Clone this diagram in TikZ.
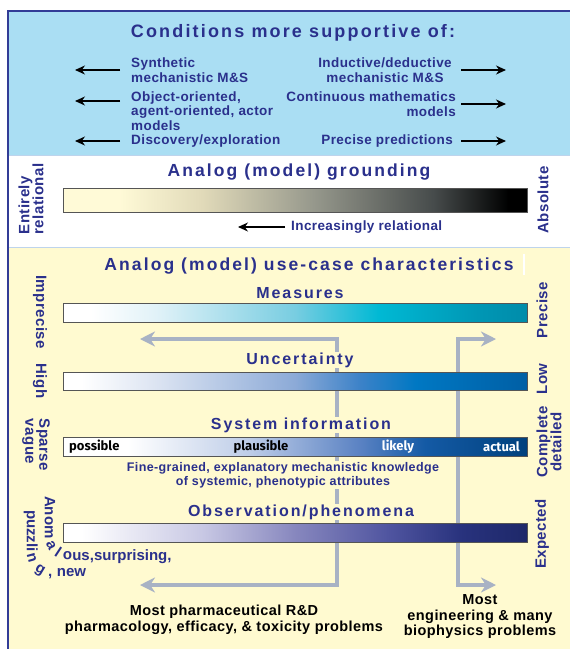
\documentclass[tikz,border=0pt]{standalone}
\usepackage{fontspec}
\setmainfont{Liberation Sans}
\newfontfamily\spacedfont[LetterSpace=12]{Liberation Sans}
\newfontfamily\widefont[LetterSpace=3]{Liberation Sans}
\newfontfamily\handfont{Fira Sans}
\usetikzlibrary{arrows.meta,decorations.text}

\definecolor{skypanel}{RGB}{170,222,243}
\definecolor{creampanel}{RGB}{255,250,208}
\definecolor{inkblue}{RGB}{42,48,140}
\definecolor{framenavy}{RGB}{50,60,150}
\definecolor{seamblue}{RGB}{190,212,236}
\definecolor{arrowgray}{RGB}{168,178,196}
\definecolor{bargray}{RGB}{85,85,85}

\definecolor{gA}{RGB}{255,250,215}
\definecolor{gB}{RGB}{225,218,185}
\definecolor{gC}{RGB}{150,152,140}
\definecolor{gD}{RGB}{70,75,75}
\definecolor{mB}{RGB}{225,242,248}
\definecolor{mC}{RGB}{120,205,225}
\definecolor{mD}{RGB}{0,185,212}
\definecolor{mE}{RGB}{0,150,180}
\definecolor{mF}{RGB}{0,140,170}
\definecolor{uB}{RGB}{220,228,242}
\definecolor{uC}{RGB}{140,170,215}
\definecolor{uD}{RGB}{60,130,200}
\definecolor{uE}{RGB}{0,120,195}
\definecolor{uF}{RGB}{0,95,165}
\definecolor{sB}{RGB}{190,205,232}
\definecolor{sC}{RGB}{90,130,195}
\definecolor{sD}{RGB}{20,90,165}
\definecolor{sE}{RGB}{0,65,125}
\definecolor{oB}{RGB}{200,200,228}
\definecolor{oC}{RGB}{135,135,190}
\definecolor{oD}{RGB}{80,85,160}
\definecolor{oE}{RGB}{40,50,125}
\definecolor{oF}{RGB}{30,40,105}

\pgfdeclarehorizontalshading{groundshade}{100bp}{color(0bp)=(gA); color(31bp)=(gA);
    color(40bp)=(gB); color(52bp)=(gC); color(65bp)=(gD); color(73bp)=(black); color(100bp)=(black)}
\pgfdeclarehorizontalshading{measureshade}{100bp}{color(0bp)=(white); color(28bp)=(white);
    color(35bp)=(mB); color(50bp)=(mC); color(59bp)=(mD); color(70bp)=(mE); color(75bp)=(mF); color(100bp)=(mF)}
\pgfdeclarehorizontalshading{uncertshade}{100bp}{color(0bp)=(white); color(27bp)=(white);
    color(35bp)=(uB); color(50bp)=(uC); color(57bp)=(uD); color(63bp)=(uE); color(75bp)=(uF); color(100bp)=(uF)}
\pgfdeclarehorizontalshading{sysshade}{100bp}{color(0bp)=(white); color(32bp)=(white);
    color(45bp)=(sB); color(57bp)=(sC); color(64bp)=(sD); color(75bp)=(sE); color(100bp)=(sE)}
\pgfdeclarehorizontalshading{obsshade}{100bp}{color(0bp)=(white); color(27bp)=(white);
    color(40bp)=(oB); color(50bp)=(oC); color(60bp)=(oD); color(68bp)=(oE); color(75bp)=(oF); color(100bp)=(oF)}

\begin{document}
\begin{tikzpicture}[x=1pt, y=-1pt,
    toptext/.style={text=inkblue, font=\widefont\bfseries\fontsize{13.5}{14.5}\selectfont, inner sep=1pt},
    paneltitle/.style={text=inkblue, font=\spacedfont\bfseries\fontsize{17.5}{19}\selectfont, inner sep=1pt},
    bartitle/.style={text=inkblue, font=\spacedfont\bfseries\fontsize{16}{18}\selectfont, fill=creampanel, inner sep=1pt},
    sidelabel/.style={text=inkblue, font=\widefont\bfseries\fontsize{15}{14}\selectfont, inner sep=0pt},
    gradbar/.style={draw=bargray, line width=1pt, shade, minimum width=464pt, minimum height=19pt, inner sep=0pt},
    barword/.style={font=\handfont\bfseries\fontsize{13}{14}\selectfont, inner sep=1pt},
    toparrow/.style={-{Stealth[length=10pt,width=9pt]}, line width=1.1pt, black},
    grayarrow/.style={{Stealth[length=15pt,width=15pt]}-{Stealth[length=15pt,width=15pt]}, line width=3.5pt, arrowgray},
    curvetext/.style={decorate, decoration={text along path, raise=-11pt, text color=inkblue,
        text={|\widefont\bfseries\fontsize{15}{16}\selectfont|#1}}},
    endtext/.style={font=\widefont\bfseries\fontsize{14.5}{15.5}\selectfont, align=center, inner sep=1pt}]
    \useasboundingbox (0,0) rectangle (570,649);

    \fill [skypanel] (8,11) rectangle (570,155);
    \fill [white] (8,155) rectangle (570,247);
    \fill [creampanel] (8,247) rectangle (570,649);
    \draw [seamblue, line width=1pt] (8,155) -- (570,155);
    \draw [seamblue, line width=1pt] (8,247) -- (570,247);
    \draw [framenavy, line width=1.2pt] (570,11) -- (8,11) -- (8,649);

    \node [paneltitle, font=\spacedfont\bfseries\fontsize{18}{19}\selectfont] (cond) at (293,33) {Conditions more supportive of:};

    \coordinate (leftstart) at (120,0);
    \coordinate (leftend) at (75,0);
    \coordinate (rightstart) at (461,0);
    \coordinate (rightend) at (506,0);
    \node [toptext, anchor=west, align=left] (synth) at (130,70) {Synthetic\\mechanistic M\&S};
    \node [toptext, anchor=west, align=left] (objor) at (130,111) {Object-oriented,\\agent-oriented, actor\\models};
    \node [toptext, anchor=west] (disc) at (130,141) {Discovery/exploration};
    \node [toptext, align=center] (induct) at (385,70) {Inductive/deductive\\mechanistic M\&S};
    \node [toptext, anchor=east, align=right] (contin) at (457,104) {Continuous mathematics\\models};
    \node [toptext, anchor=east] (precise) at (454,141) {Precise predictions};

    \draw [toparrow] (synth.west -| leftstart) -- (synth.west -| leftend);
    \draw [toparrow] ([yshift=10pt]objor.west -| leftstart) -- ([yshift=10pt]objor.west -| leftend);
    \draw [toparrow] (disc.west -| leftstart) -- (disc.west -| leftend);
    \draw [toparrow] (induct.east -| rightstart) -- (induct.east -| rightend);
    \draw [toparrow] (contin.east -| rightstart) -- (contin.east -| rightend);
    \draw [toparrow] (precise.east -| rightstart) -- (precise.east -| rightend);

    \node [sidelabel, rotate=90, align=left] (entirely) at (31,199) {Entirely\\relational};
    \node [paneltitle] (groundtitle) at (299,172) {Analog (model) grounding};
    \node [gradbar, shading=groundshade, minimum height=24pt] (groundbar) at (295,200) {};
    \node [toptext, anchor=west] (incr) at (290,227) {Increasingly relational};
    \coordinate (incrend) at (238,227);
    \draw [toparrow] ([xshift=-5pt]incr.west) -- (incrend);
    \node [sidelabel, rotate=90] (absolute) at (543,200) {Absolute};

    \node [paneltitle] (usetitle) at (309,266) {Analog (model) use-case characteristics};
    \draw [white, line width=2.5pt] (524,254) -- (524,275);

    \coordinate (pharmtop) at (140,339);
    \coordinate (pharmturn) at (337,339);
    \coordinate (pharmdown) at (337,585);
    \coordinate (pharmend) at (140,585);
    \coordinate (engtop) at (496,339);
    \coordinate (engturn) at (458,339);
    \coordinate (engdown) at (458,585);
    \coordinate (engend) at (496,585);
    \draw [grayarrow] (pharmtop) -- (pharmturn) -- (pharmdown) -- (pharmend);
    \draw [grayarrow] (engtop) -- (engturn) -- (engdown) -- (engend);

    \node [sidelabel, rotate=-90] (imprecise) at (40,312) {Imprecise};
    \node [bartitle] (meastitle) at (300,293) {Measures};
    \node [gradbar, shading=measureshade] (measbar) at (295,312.5) {};
    \node [sidelabel, rotate=90] (preciselab) at (542,310) {Precise};

    \node [sidelabel, rotate=-90] (high) at (40,381) {High};
    \node [bartitle] (uncerttitle) at (300,360) {Uncertainty};
    \node [gradbar, shading=uncertshade, minimum height=18pt] (uncertbar) at (295,381) {};
    \node [sidelabel, rotate=90] (low) at (542,379) {Low};

    \node [sidelabel, rotate=-90, align=left] (sparse) at (36,445) {Sparse\\vague};
    \node [bartitle] (systitle) at (301,425) {System information};
    \node [gradbar, shading=sysshade] (sysbar) at (295,446.5) {};
    \node [barword, anchor=west] (possible) at (68,447) {possible};
    \node [barword] (plausible) at (261,447) {plausible};
    \node [barword, text=white] (likely) at (398,447) {likely};
    \node [barword, text=white, anchor=east] (actual) at (521,447) {actual};
    \node [sidelabel, rotate=90, align=center] (complete) at (549,442) {Complete\\detailed};
    \node [toptext, font=\widefont\bfseries\fontsize{12.5}{14}\selectfont, fill=creampanel, align=center] (finegrain) at (283,475)
        {Fine-grained, explanatory mechanistic knowledge\\of systemic, phenotypic attributes};

    \node [bartitle] (obstitle) at (301,512) {Observation/phenomena};
    \node [gradbar, shading=obsshade] (obsbar) at (295,532.5) {};
    \node [sidelabel, rotate=90] (expected) at (542,534) {Expected};
    \path [curvetext={Anomalous,surprising,}]
        (56,496) -- (56,537) .. controls (56,543.6) and (61.4,549) .. (68,549) -- (200,549);
    \path [curvetext={puzzling, new}]
        (38,510) -- (38,553) .. controls (38,559.6) and (43.4,565) .. (50,565) -- (170,565);

    \node [endtext] (pharma) at (224,620) {Most pharmaceutical R\&D\\pharmacology, efficacy, \& toxicity problems};
    \node [endtext] (engin) at (480,617) {Most\\engineering \& many\\biophysics problems};
\end{tikzpicture}
\end{document}
